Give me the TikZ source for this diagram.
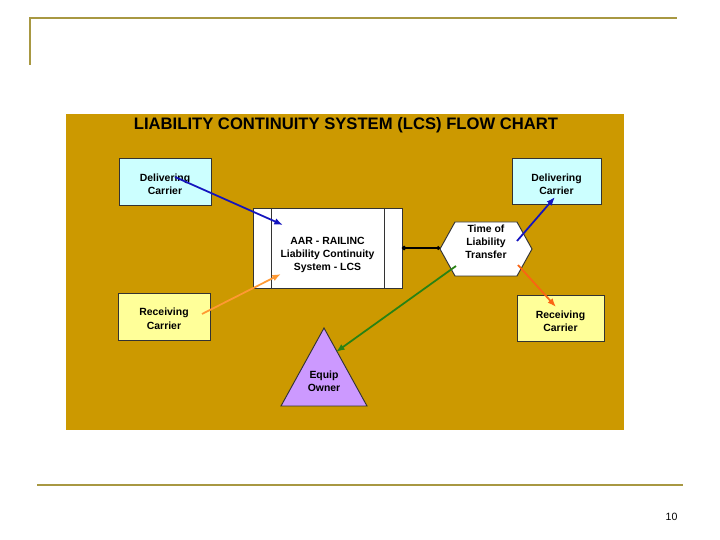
\documentclass[tikz,border=0pt]{standalone}
\usepackage{fontspec}
\setmainfont{Liberation Sans}
\usetikzlibrary{arrows.meta}
\definecolor{frameolive}{RGB}{168,152,66}
\definecolor{panelgold}{RGB}{204,153,0}
\definecolor{boxcyan}{RGB}{204,255,255}
\definecolor{boxyellow}{RGB}{255,255,153}
\definecolor{ownerlilac}{RGB}{204,153,255}
\definecolor{linkblue}{RGB}{20,20,190}
\definecolor{linkorange}{RGB}{255,153,51}
\definecolor{linkred}{RGB}{250,100,20}
\definecolor{linkgreen}{RGB}{40,130,20}
% extra head room on a first line, pushes a label block down in its box
\newcommand{\topgap}[1]{\rule{0pt}{#1}}

\begin{document}
\begin{tikzpicture}[
  x=0.03cm, y=-0.03cm,
  every node/.style={align=center},
  lbl/.style={font=\fontsize{8.9}{11.3}\selectfont\bfseries, inner sep=0pt,
              outer sep=0pt},
  party/.style={lbl, draw=black!80, line width=0.8pt,
                minimum width=2.76cm, minimum height=1.41cm},
  dlv/.style={party, fill=boxcyan},
  rcv/.style={party, fill=boxyellow},
  sys/.style={lbl, draw=black!80, fill=white, line width=0.8pt,
              minimum width=4.47cm, minimum height=2.4cm},
  hexbox/.style={lbl, minimum width=2.76cm, minimum height=1.62cm},
  outline/.style={draw=black!80, line width=0.8pt},
  link/.style={-{Latex[length=2.6mm,width=2mm]}, line width=1.5pt},
  tie/.style={{Circle[length=1.3mm]}-{Circle[length=1.1mm]}, line width=1.3pt},
  frameline/.style={draw=frameolive, line width=1.8pt},
]
\useasboundingbox (0,0) rectangle (720,540);

% ---- slide frame ----
\draw[frameline] (30,65) -- (30,18) -- (677,18);
\draw[frameline] (37,485) -- (683,485);
\node[font=\fontsize{9}{10}\selectfont] (pgno) at (671.5,516.5) {10};

% ---- chart panel ----
\fill[panelgold] (66,114) rectangle (624,430);
\node[font=\fontsize{14.2}{16}\selectfont\bfseries, anchor=base] (title)
  at (346,130) {LIABILITY CONTINUITY SYSTEM (LCS) FLOW CHART};

\node[dlv] (dcl) at (165,181.5) {\topgap{11.5pt}Delivering\\Carrier};
\node[rcv] (rcl) at (164,316.5) {\topgap{10.5pt}Receiving\\Carrier};
\node[dlv, minimum width=2.67cm, minimum height=1.38cm] (dcr) at (556.5,181)
  {\topgap{11.5pt}Delivering\\Carrier};
\node[rcv, minimum width=2.61cm, minimum height=1.38cm] (rcr) at (560.5,318)
  {\topgap{11.5pt}Receiving\\Carrier};

\node[sys] (lcs) at (327.5,248)
  {\topgap{18.5pt}AAR - RAILINC\\Liability Continuity\\System - LCS};
\foreach \s/\e/\d in {north west/south west/18, north east/south east/-18}
  \draw[outline] ([shift={(\d,0)}]lcs.\s) -- ([shift={(\d,0)}]lcs.\e);

% hexagon and triangle are drawn as plain outlines, text sits on top
\filldraw[outline, fill=white] (440,249) -- (455,222) -- (517,222) -- (532,249)
  -- (517,276) -- (455,276) -- cycle;
\node[hexbox] (tlt) at (486,242) {Time of\\Liability\\Transfer};

\filldraw[outline, fill=ownerlilac] (324,328) -- (367,406) -- (281,406) -- cycle;
\node[lbl] (own) at (324,381) {Equip\\Owner};

% ---- connectors ----
\draw[link, linkblue]   ([shift={(10,-4.5)}]dcl.center) -- ([shift={(-44.5,-23)}]lcs.center);
\draw[link, linkorange] ([shift={(38,-2.5)}]rcl.center) -- ([shift={(-46.5,26)}]lcs.center);
\draw[tie] (lcs.east) -- (lcs.east -| tlt.west);
\draw[link, linkblue]   ([shift={(31,-1)}]tlt.center) -- ([shift={(-1.5,16)}]dcr.center);
\draw[link, linkred]    ([shift={(32,23)}]tlt.center) -- ([shift={(-4.5,-11)}]rcr.center);
\draw[link, linkgreen]  ([shift={(-30,24)}]tlt.center) -- ([shift={(12,-29)}]own.center);
\end{tikzpicture}
\end{document}
